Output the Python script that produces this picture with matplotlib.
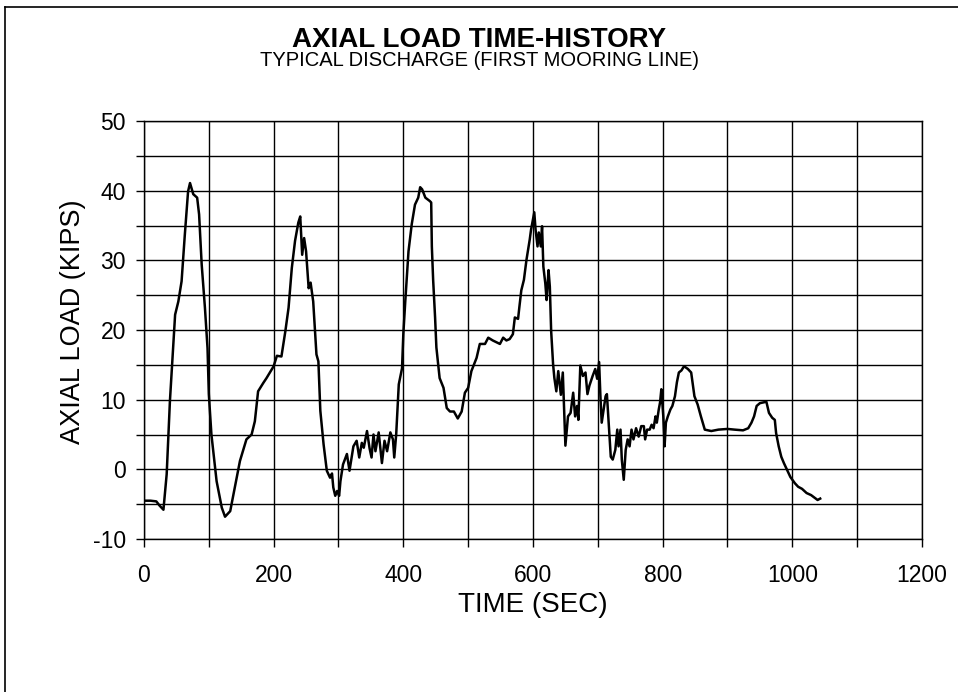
import matplotlib
matplotlib.use("Agg")
import matplotlib.pyplot as plt
from matplotlib.ticker import MultipleLocator, FuncFormatter
from matplotlib.lines import Line2D

plt.rcParams["font.family"] = ["Liberation Sans", "DejaVu Sans"]
plt.rcParams["axes.unicode_minus"] = False

# axial load time-history
time_sec = [0, 10, 19, 24, 30, 35, 40, 45, 48, 53, 58, 63, 68, 71, 76, 82, 85, 89,
            94, 98, 100, 104, 112, 120, 125, 133, 143, 148, 158, 166, 171, 176,
            184, 189, 200, 205, 212, 218, 223, 228, 233, 238, 241, 244, 247, 250,
            254, 257, 261, 266, 269, 272, 277, 282, 287, 290, 292, 295, 298, 301,
            303, 307, 313, 317, 319, 323, 328, 332, 336, 339, 344, 348, 351, 354,
            357, 362, 367, 371, 375, 380, 384, 386, 389, 393, 398, 400, 403, 408,
            413, 418, 423, 426, 429, 434, 441, 443, 444, 446, 449, 451, 456, 462,
            467, 472, 478, 484, 490, 495, 500, 505, 513, 518, 526, 531, 538, 549,
            554, 559, 564, 569, 572, 577, 579, 582, 586, 590, 595, 597, 602, 604,
            607, 609, 612, 614, 616, 619, 621, 624, 626, 628, 631, 633, 636, 639,
            643, 646, 650, 654, 658, 662, 665, 668, 670, 673, 677, 681, 684, 687,
            692, 696, 699, 702, 704, 706, 709, 712, 714, 717, 720, 723, 727, 730,
            732, 735, 737, 740, 743, 746, 749, 752, 755, 759, 763, 767, 771, 773,
            776, 780, 783, 786, 789, 791, 794, 796, 798, 801, 803, 805, 808, 812,
            815, 819, 822, 825, 829, 833, 839, 844, 846, 849, 854, 859, 865, 875,
            886, 900, 911, 924, 932, 937, 941, 945, 950, 955, 960, 964, 969, 973,
            975, 979, 983, 987, 992, 997, 1004, 1009, 1015, 1022, 1029, 1039, 1043]
load_kips = [-4.5, -4.5, -4.6, -5.2, -5.8, -0.7, 9.8, 17.4, 22.2, 24.1, 27.0, 33.7,
             39.9, 41.1, 39.5, 39.0, 36.6, 29.4, 23.2, 17.4, 10.8, 5.0, -1.7, -5.5,
             -6.8, -6.0, -1.2, 1.2, 4.3, 5.0, 6.9, 11.2, 12.4, 13.1, 14.8, 16.3,
             16.2, 19.8, 23.2, 28.9, 32.8, 35.4, 36.3, 30.8, 33.2, 31.3, 26.0, 26.8,
             24.1, 16.5, 15.5, 8.4, 3.6, -0.2, -1.2, -0.6, -2.6, -3.8, -3.1, -3.8,
             -1.7, 0.7, 2.2, -0.2, 1.0, 3.3, 4.1, 1.7, 3.8, 3.1, 5.5, 3.0, 1.7, 5.0,
             2.6, 5.3, 0.9, 4.1, 2.6, 5.3, 4.3, 1.7, 5.0, 12.2, 14.5, 19.4, 24.1,
             31.3, 35.2, 38.0, 39.0, 40.5, 40.2, 39.0, 38.5, 38.3, 32.0, 27.2, 21.8,
             17.5, 13.1, 11.7, 8.8, 8.3, 8.3, 7.3, 8.3, 11.0, 11.7, 14.1, 16.0, 18.0,
             18.0, 18.9, 18.5, 18.0, 18.9, 18.5, 18.7, 19.4, 21.8, 21.6, 23.3, 25.7,
             27.2, 30.1, 33.0, 34.4, 36.9, 34.4, 32.0, 34.0, 32.0, 34.9, 29.1, 26.7,
             24.3, 28.6, 26.2, 19.9, 15.1, 13.1, 11.2, 14.1, 10.7, 13.9, 3.4, 7.6,
             8.1, 11.0, 7.6, 9.1, 7.1, 14.9, 13.4, 13.9, 10.8, 12.0, 13.4, 14.4, 13.0,
             15.4, 10.5, 6.7, 8.6, 10.5, 10.8, 6.2, 1.8, 1.4, 2.8, 5.7, 3.3, 5.7, 1.4,
             -1.5, 2.8, 4.3, 3.3, 5.7, 4.3, 5.9, 4.7, 6.2, 6.2, 4.3, 5.7, 5.7, 6.4,
             5.9, 7.6, 6.7, 8.6, 9.6, 11.5, 7.6, 3.3, 6.7, 7.6, 8.6, 9.1, 10.5, 12.5,
             13.9, 14.2, 14.8, 14.4, 13.9, 12.5, 10.5, 9.3, 7.6, 5.7, 5.5, 5.7, 5.8,
             5.7, 5.6, 5.9, 6.7, 7.6, 9.1, 9.5, 9.6, 9.7, 8.1, 7.4, 7.1, 5.2, 3.3,
             1.8, 0.9, -0.1, -1.1, -2.0, -2.5, -2.8, -3.4, -3.7, -4.4, -4.2]

fig = plt.figure(figsize=(9.58, 6.92), dpi=100)
ax = fig.add_axes([0.1503, 0.2211, 0.8121, 0.604])

ax.plot(time_sec, load_kips, color="black", linewidth=1.8)

ax.set_xlim(0, 1200)
ax.set_ylim(-10, 50)
ax.xaxis.set_major_locator(MultipleLocator(100))
ax.yaxis.set_major_locator(MultipleLocator(5))
ax.xaxis.set_major_formatter(FuncFormatter(lambda v, p: f"{v:.0f}" if round(v) % 200 == 0 else ""))
ax.yaxis.set_major_formatter(FuncFormatter(lambda v, p: f"{v:.0f}" if round(v) % 10 == 0 else ""))
ax.grid(True, color="black", linewidth=1.0)
ax.tick_params(direction="out", length=6, width=1.0, labelsize=16.5, color="black")
ax.tick_params(axis="x", pad=12)
ax.tick_params(axis="y", pad=7)
for s in ax.spines.values():
    s.set_linewidth(1.0)

ax.set_xlabel("TIME (SEC)", fontsize=20)
ax.xaxis.set_label_coords(0.5, -0.128)
ax.set_ylabel("AXIAL LOAD (KIPS)", fontsize=19.5)
ax.yaxis.set_label_coords(-0.074, 0.52)

fig.text(0.5, 1 - 47 / 692, "AXIAL LOAD TIME-HISTORY", ha="center", va="baseline",
         fontsize=20, fontweight="bold")
fig.text(0.5, 1 - 66 / 692, "TYPICAL DISCHARGE (FIRST MOORING LINE)", ha="center",
         va="baseline", fontsize=14.5)

# page frame (left and top edges of the scanned box)
fig.add_artist(Line2D([5 / 958, 5 / 958], [0, 1 - 7 / 692], transform=fig.transFigure,
                      color="black", linewidth=1.2))
fig.add_artist(Line2D([5 / 958, 1], [1 - 7 / 692, 1 - 7 / 692], transform=fig.transFigure,
                      color="black", linewidth=1.2))

fig.savefig("out.png", dpi=100)
